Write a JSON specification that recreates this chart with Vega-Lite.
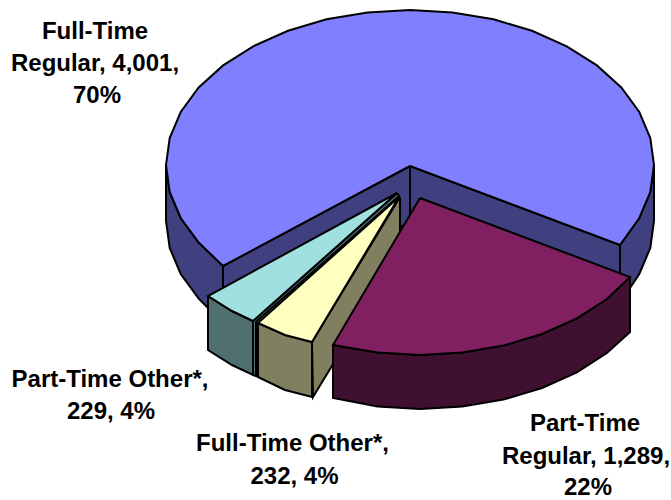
{"$schema":"https://vega.github.io/schema/vega-lite/v6.json","width":671,"height":500,"padding":0,"autosize":{"type":"none"},"background":"white","view":{"stroke":null},
"datasets":{"faces":[
{"part":"01 FT Regular outer left","face":"blue dark","i":0,"px":166,"py":165},{"part":"01 FT Regular outer left","face":"blue dark","i":1,"px":169.7,"py":191.9},{"part":"01 FT Regular outer left","face":"blue dark","i":2,"px":180.7,"py":218},{"part":"01 FT Regular outer left","face":"blue dark","i":3,"px":198.7,"py":242.5},{"part":"01 FT Regular outer left","face":"blue dark","i":4,"px":223,"py":266},{"part":"01 FT Regular outer left","face":"blue dark","i":5,"px":223,"py":322},{"part":"01 FT Regular outer left","face":"blue dark","i":6,"px":207,"py":307},{"part":"01 FT Regular outer left","face":"blue dark","i":7,"px":198.7,"py":298.5},{"part":"01 FT Regular outer left","face":"blue dark","i":8,"px":180.7,"py":274},{"part":"01 FT Regular outer left","face":"blue dark","i":9,"px":169.7,"py":247.9},{"part":"01 FT Regular outer left","face":"blue dark","i":10,"px":166,"py":221},{"part":"01 FT Regular outer left","face":"blue dark","i":11,"px":166,"py":165},
{"part":"02 FT Regular outer right","face":"blue dark","i":0,"px":620,"py":245},{"part":"02 FT Regular outer right","face":"blue dark","i":1,"px":639.3,"py":218},{"part":"02 FT Regular outer right","face":"blue dark","i":2,"px":650.3,"py":192},{"part":"02 FT Regular outer right","face":"blue dark","i":3,"px":654,"py":165},{"part":"02 FT Regular outer right","face":"blue dark","i":4,"px":654,"py":221},{"part":"02 FT Regular outer right","face":"blue dark","i":5,"px":650.3,"py":248},{"part":"02 FT Regular outer right","face":"blue dark","i":6,"px":639.3,"py":274},{"part":"02 FT Regular outer right","face":"blue dark","i":7,"px":630,"py":288},{"part":"02 FT Regular outer right","face":"blue dark","i":8,"px":620,"py":301},{"part":"02 FT Regular outer right","face":"blue dark","i":9,"px":620,"py":245},
{"part":"03 FT Regular cut right","face":"blue dark","i":0,"px":410,"py":166},{"part":"03 FT Regular cut right","face":"blue dark","i":1,"px":620,"py":245},{"part":"03 FT Regular cut right","face":"blue dark","i":2,"px":620,"py":301},{"part":"03 FT Regular cut right","face":"blue dark","i":3,"px":410,"py":222},{"part":"03 FT Regular cut right","face":"blue dark","i":4,"px":410,"py":166},
{"part":"04 FT Regular cut left","face":"blue dark","i":0,"px":410,"py":166},{"part":"04 FT Regular cut left","face":"blue dark","i":1,"px":223,"py":266},{"part":"04 FT Regular cut left","face":"blue dark","i":2,"px":223,"py":322},{"part":"04 FT Regular cut left","face":"blue dark","i":3,"px":410,"py":222},{"part":"04 FT Regular cut left","face":"blue dark","i":4,"px":410,"py":166},
{"part":"05 FT Regular top","face":"blue","i":0,"px":410,"py":166},{"part":"05 FT Regular top","face":"blue","i":1,"px":620,"py":245},{"part":"05 FT Regular top","face":"blue","i":2,"px":639.3,"py":218},{"part":"05 FT Regular top","face":"blue","i":3,"px":650.3,"py":192},{"part":"05 FT Regular top","face":"blue","i":4,"px":654,"py":165},{"part":"05 FT Regular top","face":"blue","i":5,"px":650.3,"py":138.1},{"part":"05 FT Regular top","face":"blue","i":6,"px":639.3,"py":112},{"part":"05 FT Regular top","face":"blue","i":7,"px":621.3,"py":87.5},{"part":"05 FT Regular top","face":"blue","i":8,"px":596.9,"py":65.4},{"part":"05 FT Regular top","face":"blue","i":9,"px":566.8,"py":46.3},{"part":"05 FT Regular top","face":"blue","i":10,"px":532,"py":30.8},{"part":"05 FT Regular top","face":"blue","i":11,"px":493.5,"py":19.3},{"part":"05 FT Regular top","face":"blue","i":12,"px":452.4,"py":12.4},{"part":"05 FT Regular top","face":"blue","i":13,"px":410,"py":10},{"part":"05 FT Regular top","face":"blue","i":14,"px":367.6,"py":12.4},{"part":"05 FT Regular top","face":"blue","i":15,"px":326.5,"py":19.3},{"part":"05 FT Regular top","face":"blue","i":16,"px":288,"py":30.8},{"part":"05 FT Regular top","face":"blue","i":17,"px":253.2,"py":46.3},{"part":"05 FT Regular top","face":"blue","i":18,"px":223.1,"py":65.4},{"part":"05 FT Regular top","face":"blue","i":19,"px":198.7,"py":87.5},{"part":"05 FT Regular top","face":"blue","i":20,"px":180.7,"py":112},{"part":"05 FT Regular top","face":"blue","i":21,"px":169.7,"py":138.1},{"part":"05 FT Regular top","face":"blue","i":22,"px":166,"py":165},{"part":"05 FT Regular top","face":"blue","i":23,"px":169.7,"py":191.9},{"part":"05 FT Regular top","face":"blue","i":24,"px":180.7,"py":218},{"part":"05 FT Regular top","face":"blue","i":25,"px":198.7,"py":242.5},{"part":"05 FT Regular top","face":"blue","i":26,"px":223,"py":266},{"part":"05 FT Regular top","face":"blue","i":27,"px":410,"py":166},
{"part":"06 PT Other front","face":"teal","i":0,"px":208,"py":296},{"part":"06 PT Other front","face":"teal","i":1,"px":232,"py":311},{"part":"06 PT Other front","face":"teal","i":2,"px":253,"py":321},{"part":"06 PT Other front","face":"teal","i":3,"px":253,"py":375},{"part":"06 PT Other front","face":"teal","i":4,"px":232,"py":365},{"part":"06 PT Other front","face":"teal","i":5,"px":208,"py":350},{"part":"06 PT Other front","face":"teal","i":6,"px":208,"py":296},
{"part":"07 PT Other cut","face":"teal","i":0,"px":397,"py":193},{"part":"07 PT Other cut","face":"teal","i":1,"px":399,"py":196},{"part":"07 PT Other cut","face":"teal","i":2,"px":256,"py":322},{"part":"07 PT Other cut","face":"teal","i":3,"px":256,"py":376},{"part":"07 PT Other cut","face":"teal","i":4,"px":253,"py":375},{"part":"07 PT Other cut","face":"teal","i":5,"px":253,"py":321},{"part":"07 PT Other cut","face":"teal","i":6,"px":397,"py":193},
{"part":"08 PT Other top","face":"cyan","i":0,"px":397,"py":193},{"part":"08 PT Other top","face":"cyan","i":1,"px":253,"py":321},{"part":"08 PT Other top","face":"cyan","i":2,"px":232,"py":311},{"part":"08 PT Other top","face":"cyan","i":3,"px":208,"py":296},{"part":"08 PT Other top","face":"cyan","i":4,"px":397,"py":193},
{"part":"09 FT Other cut","face":"olive","i":0,"px":400,"py":197},{"part":"09 FT Other cut","face":"olive","i":1,"px":400,"py":254},{"part":"09 FT Other cut","face":"olive","i":2,"px":313,"py":397},{"part":"09 FT Other cut","face":"olive","i":3,"px":312,"py":342},{"part":"09 FT Other cut","face":"olive","i":4,"px":400,"py":197},
{"part":"10 FT Other front","face":"olive","i":0,"px":258,"py":323},{"part":"10 FT Other front","face":"olive","i":1,"px":285,"py":335},{"part":"10 FT Other front","face":"olive","i":2,"px":312,"py":342},{"part":"10 FT Other front","face":"olive","i":3,"px":312,"py":397},{"part":"10 FT Other front","face":"olive","i":4,"px":285,"py":390},{"part":"10 FT Other front","face":"olive","i":5,"px":258,"py":377},{"part":"10 FT Other front","face":"olive","i":6,"px":258,"py":323},
{"part":"11 FT Other top","face":"yellow","i":0,"px":399,"py":197},{"part":"11 FT Other top","face":"yellow","i":1,"px":312,"py":342},{"part":"11 FT Other top","face":"yellow","i":2,"px":285,"py":335},{"part":"11 FT Other top","face":"yellow","i":3,"px":258,"py":323},{"part":"11 FT Other top","face":"yellow","i":4,"px":399,"py":197},
{"part":"12 PT Regular front","face":"maroon dark","i":0,"px":630,"py":277},{"part":"12 PT Regular front","face":"maroon dark","i":1,"px":606.9,"py":299},{"part":"12 PT Regular front","face":"maroon dark","i":2,"px":576.9,"py":318.3},{"part":"12 PT Regular front","face":"maroon dark","i":3,"px":542,"py":334},{"part":"12 PT Regular front","face":"maroon dark","i":4,"px":503.4,"py":345.6},{"part":"12 PT Regular front","face":"maroon dark","i":5,"px":462.4,"py":352.6},{"part":"12 PT Regular front","face":"maroon dark","i":6,"px":420,"py":355},{"part":"12 PT Regular front","face":"maroon dark","i":7,"px":377.6,"py":352.6},{"part":"12 PT Regular front","face":"maroon dark","i":8,"px":333,"py":345},{"part":"12 PT Regular front","face":"maroon dark","i":9,"px":333,"py":398},{"part":"12 PT Regular front","face":"maroon dark","i":10,"px":377.6,"py":406.6},{"part":"12 PT Regular front","face":"maroon dark","i":11,"px":420,"py":409},{"part":"12 PT Regular front","face":"maroon dark","i":12,"px":462.4,"py":406.6},{"part":"12 PT Regular front","face":"maroon dark","i":13,"px":503.4,"py":399.6},{"part":"12 PT Regular front","face":"maroon dark","i":14,"px":542,"py":388},{"part":"12 PT Regular front","face":"maroon dark","i":15,"px":576.9,"py":372.3},{"part":"12 PT Regular front","face":"maroon dark","i":16,"px":606.9,"py":353},{"part":"12 PT Regular front","face":"maroon dark","i":17,"px":630,"py":332},{"part":"12 PT Regular front","face":"maroon dark","i":18,"px":630,"py":277},
{"part":"13 PT Regular top","face":"maroon","i":0,"px":420,"py":198},{"part":"13 PT Regular top","face":"maroon","i":1,"px":630,"py":277},{"part":"13 PT Regular top","face":"maroon","i":2,"px":606.9,"py":299},{"part":"13 PT Regular top","face":"maroon","i":3,"px":576.9,"py":318.3},{"part":"13 PT Regular top","face":"maroon","i":4,"px":542,"py":334},{"part":"13 PT Regular top","face":"maroon","i":5,"px":503.4,"py":345.6},{"part":"13 PT Regular top","face":"maroon","i":6,"px":462.4,"py":352.6},{"part":"13 PT Regular top","face":"maroon","i":7,"px":420,"py":355},{"part":"13 PT Regular top","face":"maroon","i":8,"px":377.6,"py":352.6},{"part":"13 PT Regular top","face":"maroon","i":9,"px":333,"py":345},{"part":"13 PT Regular top","face":"maroon","i":10,"px":420,"py":198}
],
"labels":[
{"t":"Full-Time","px":95,"py":32},{"t":"Regular, 4,001,","px":95,"py":64},{"t":"70%","px":97,"py":96},
{"t":"Part-Time Other*,","px":110,"py":380},{"t":"229, 4%","px":111,"py":412},
{"t":"Full-Time Other*,","px":292.5,"py":444},{"t":"232, 4%","px":294.5,"py":477},
{"t":"Part-Time","px":585,"py":424},{"t":"Regular, 1,289,","px":586,"py":457},{"t":"22%","px":588,"py":488}
]},
"layer":[
{"data":{"name":"faces"},"mark":{"type":"line","stroke":"#000000","strokeWidth":2,"strokeJoin":"miter","interpolate":"linear"},
"encoding":{"x":{"field":"px","type":"quantitative","scale":{"domain":[0,671]},"axis":null},"y":{"field":"py","type":"quantitative","scale":{"domain":[500,0]},"axis":null},"detail":{"field":"part","type":"nominal"},"order":{"field":"i","type":"ordinal"},"fill":{"field":"face","type":"nominal","legend":null,"scale":{"domain":["blue","blue dark","cyan","teal","yellow","olive","maroon","maroon dark"],"range":["#8080ff","#404080","#a0e0e0","#507070","#ffffc0","#808060","#802060","#401030"]}}}},
{"data":{"name":"labels"},"mark":{"type":"text","font":"Liberation Sans","fontWeight":"bold","fontSize":24,"color":"#000000","align":"center","baseline":"middle"},
"encoding":{"x":{"field":"px","type":"quantitative","scale":{"domain":[0,671]},"axis":null},"y":{"field":"py","type":"quantitative","scale":{"domain":[500,0]},"axis":null},"text":{"field":"t","type":"nominal"}}}
]}
